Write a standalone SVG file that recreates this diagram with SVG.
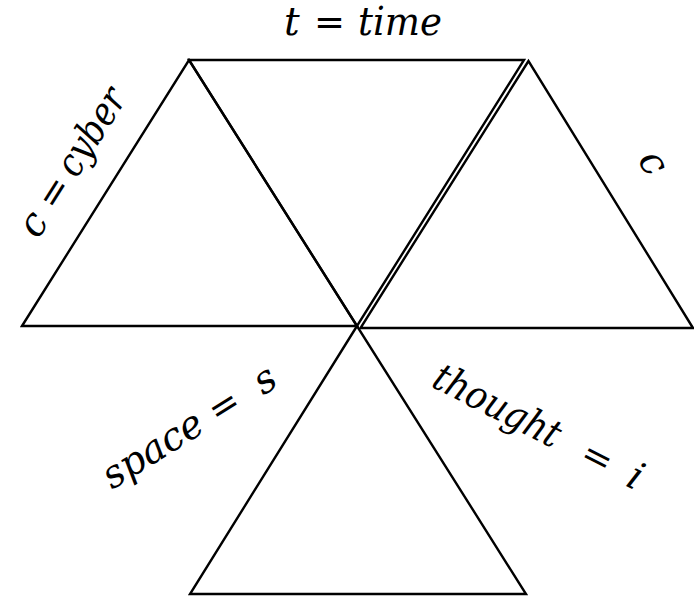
<svg xmlns="http://www.w3.org/2000/svg" width="694" height="598" viewBox="0 0 694 598">
<style>
.tri{fill:none;stroke:#000;stroke-width:2.4;stroke-linejoin:miter}
.lbl{font-family:"DejaVu Serif","Liberation Serif",serif;font-style:italic;font-size:39px;fill:#000}
.eq{font-style:normal;font-size:37px}
</style>
<rect width="694" height="598" fill="#fff"/>
<g id="tri-left"><polygon class="tri" points="22,326 189,60 357,326"/></g>
<g id="tri-top"><polygon class="tri" points="189,60 524,60 357,326"/></g>
<g id="tri-right"><polygon class="tri" points="528.5,61 360.5,328 693,328"/></g>
<g id="tri-bottom"><polygon class="tri" points="357,326 190,594 526,594"/></g>
<g id="connectors"></g>
<g id="labels">
<g id="label-time">
<text class="lbl" x="284" y="35">t</text>
<text class="lbl eq" x="314" y="35">=</text>
<text class="lbl" x="358" y="35" textLength="84" lengthAdjust="spacingAndGlyphs">time</text>
</g>
<g id="label-cyber" transform="translate(38,240) rotate(-57.7)">
<text class="lbl" x="0" y="0">c</text>
<text class="lbl eq" x="33" y="0">=</text>
<text class="lbl" x="72" y="0" textLength="96" lengthAdjust="spacingAndGlyphs">cyber</text>
</g>
<g id="label-c" transform="translate(637,160) rotate(57.7)">
<text class="lbl" x="0" y="0">c</text>
</g>
<g id="label-space" transform="translate(112,490) rotate(-32)">
<text class="lbl" x="0" y="0" textLength="112" lengthAdjust="spacingAndGlyphs">space</text>
<text class="lbl eq" x="124" y="0">=</text>
<text class="lbl" x="178" y="0">s</text>
</g>
<g id="label-thought" transform="translate(430,386) rotate(27)">
<text class="lbl" x="0" y="0" textLength="138" lengthAdjust="spacingAndGlyphs">thought</text>
<text class="lbl eq" x="166" y="0">=</text>
<text class="lbl" x="218" y="0">i</text>
</g>
</g>
</svg>
